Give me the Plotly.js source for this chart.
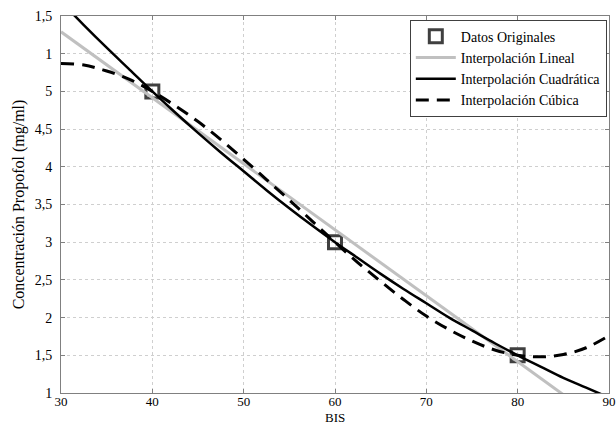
<!DOCTYPE html>
<html>
<head>
<meta charset="utf-8">
<script src="https://cdn.plot.ly/plotly-3.0.1.min.js"></script>
<style>html,body{margin:0;padding:0;background:#fff}#chart{width:616px;height:425px}</style>
</head>
<body>
<div id="chart"></div>
<script>
// Original data points
const bisPoints = [40, 60, 80];
const propofolPoints = [5, 3, 1.5];

// Linear interpolation (read endpoints)
const linearX = [30, 90];
const linearY = [5.79, 0.54];

// Quadratic interpolation
const curveX = [30, 32.5, 35, 37.5, 40, 42.5, 45, 47.5, 50, 52.5, 55, 57.5, 60,
                62.5, 65, 67.5, 70, 72.5, 75, 77.5, 80, 82.5, 85, 87.5, 90];
const quadY = [6.19, 5.88, 5.58, 5.29, 5.00, 4.72, 4.45, 4.19, 3.94, 3.69, 3.45, 3.22, 3.00,
               2.79, 2.58, 2.38, 2.19, 2.00, 1.83, 1.66, 1.50, 1.35, 1.20, 1.07, 0.94];

// Cubic interpolation
const cubicY = [5.37, 5.35, 5.27, 5.16, 5.00, 4.81, 4.60, 4.36, 4.10, 3.83, 3.56, 3.28, 3.00,
                2.73, 2.48, 2.24, 2.02, 1.84, 1.69, 1.57, 1.50, 1.48, 1.51, 1.60, 1.76];

// Y tick labels as printed in the reference
const yTickVals = [1, 1.5, 2, 2.5, 3, 3.5, 4, 4.5, 5, 5.5, 6];
const yTickText = ["1", "1,5", "2", "2,5", "3", "3,5", "4", "4,5", "5", "1", "1,5"];
const xTickVals = [30, 40, 50, 60, 70, 80, 90];

const serif = "Liberation Serif, Times New Roman, serif";

const traces = [
  {
    x: bisPoints, y: propofolPoints, type: 'scatter', mode: 'markers',
    name: 'Datos Originales',
    marker: {symbol: 'square-open', size: 13, color: '#404040', line: {width: 3, color: '#404040'}}
  },
  {
    x: linearX, y: linearY, type: 'scatter', mode: 'lines',
    name: 'Interpolación Lineal',
    line: {color: '#c0c0c0', width: 3}
  },
  {
    x: curveX, y: quadY, type: 'scatter', mode: 'lines',
    name: 'Interpolación Cuadrática',
    line: {color: '#000000', width: 2.5, shape: 'spline'}
  },
  {
    x: curveX, y: cubicY, type: 'scatter', mode: 'lines',
    name: 'Interpolación Cúbica',
    line: {color: '#000000', width: 3, dash: '13px,8px', shape: 'spline'}
  }
];

const axisCommon = {
  showline: true, linecolor: '#808080', linewidth: 1, mirror: 'ticks',
  ticks: 'inside', ticklen: 4, tickcolor: '#808080',
  showgrid: true, gridcolor: '#cfcfcf', griddash: 'dot', gridwidth: 1,
  zeroline: false,
  tickfont: {family: serif, size: 14, color: '#000'}
};

const layout = {
  width: 616, height: 425,
  margin: {l: 61, r: 7, t: 16, b: 32},
  paper_bgcolor: '#fff', plot_bgcolor: '#fff',
  showlegend: true,
  xaxis: Object.assign({}, axisCommon, {
    range: [30, 90], tickvals: xTickVals, ticktext: xTickVals.map(String),
    ticklabelstandoff: -4,
    tickfont: {family: serif, size: 13, color: '#000'},
    automargin: false
  }),
  yaxis: Object.assign({}, axisCommon, {
    range: [1, 6], tickvals: yTickVals, ticktext: yTickText,
    ticklabelstandoff: 5,
    title: {text: 'Concentración Propofol (mg/ml)', font: {family: serif, size: 16, color: '#000'}, standoff: 6},
    automargin: false
  }),
  annotations: [{
    text: 'BIS', xref: 'paper', yref: 'paper', x: 0.5, y: -0.04,
    xanchor: 'center', yanchor: 'top', showarrow: false,
    font: {family: serif, size: 13, color: '#000'}
  }],
  legend: {
    x: 0.996, xanchor: 'right', y: 0.99, yanchor: 'top',
    bgcolor: '#fff', bordercolor: '#404040', borderwidth: 1,
    font: {family: serif, size: 14, color: '#000'},
    tracegroupgap: 0, itemwidth: 40
  }
};

Plotly.newPlot('chart', traces, layout, {displayModeBar: false, staticPlot: true});
</script>
</body>
</html>
